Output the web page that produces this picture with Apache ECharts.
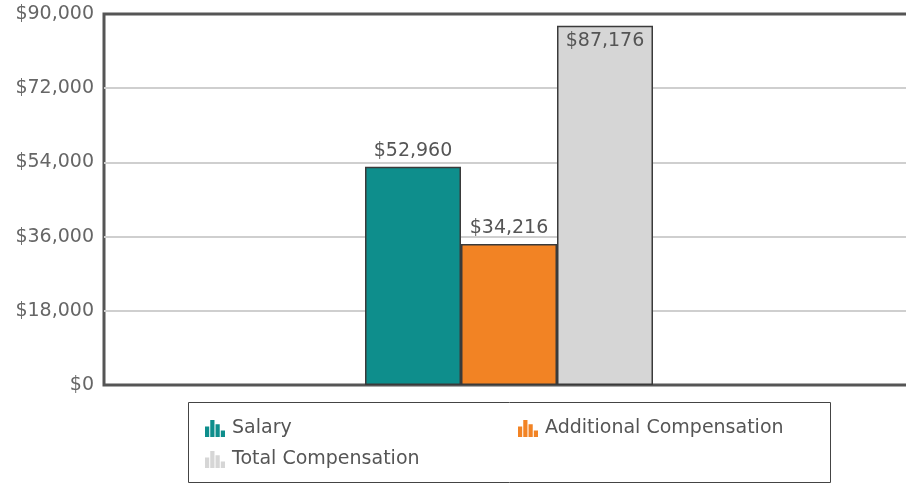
<!DOCTYPE html>
<html>
<head>
<meta charset="utf-8">
<script src="https://cdn.jsdelivr.net/npm/echarts@6/dist/echarts.min.js"></script>
<style>
  html, body { margin: 0; padding: 0; background: #fff; }
  #chart { width: 906px; height: 484px; }
</style>
</head>
<body>
<div id="chart"></div>
<script>
const categories = ['Compensation']
const seriesNames = ['Salary', 'Additional Compensation', 'Total Compensation']
const seriesValues = [52960, 34216, 87176]
const seriesColors = ['#0e8e8c', '#f28324', '#d6d6d6']
const yTicks = [0, 18000, 36000, 54000, 72000, 90000]

// little bar-chart glyph used as legend marker
const barIcon = 'path://M0,6h4v10h-4z M5,0h4v16h-4z M10,4h4v12h-4z M15,10h4v6h-4z'
const money = v => '$' + v.toLocaleString('en-US')
const font = 'DejaVu Sans'

const chart = echarts.init(document.getElementById('chart'), null, { renderer: 'canvas' })

const legendBase = {
  orient: 'vertical', itemGap: 12,
  itemWidth: 20, itemHeight: 18, icon: barIcon,
  itemStyle: { borderWidth: 0 },
  textStyle: { color: '#555', fontFamily: font, fontSize: 19, padding: [0, 0, 0, 2] }
}

chart.setOption({
  animation: false,
  grid: {
    left: 104, right: -8, top: 14, bottom: 99,
    outerBoundsMode: 'none',
    show: true, borderColor: '#555', borderWidth: 3
  },
  xAxis: {
    type: 'category',
    data: categories,
    axisLine: { show: false },
    axisTick: { show: false },
    axisLabel: { show: false }
  },
  yAxis: {
    type: 'value',
    min: yTicks[0],
    max: yTicks[yTicks.length - 1],
    interval: yTicks[1] - yTicks[0],
    axisLine: { show: false },
    axisTick: { show: false },
    splitLine: { showMinLine: false, showMaxLine: false, lineStyle: { color: '#cfcfcf', width: 2 } },
    axisLabel: { color: '#666', fontFamily: font, fontSize: 19, margin: 10, formatter: money }
  },
  legend: [
    Object.assign({ left: 200, top: 414, data: [seriesNames[0], seriesNames[2]] }, legendBase),
    Object.assign({ left: 513, top: 414, data: [seriesNames[1]] }, legendBase)
  ],
  graphic: [{
    type: 'rect', left: 186, top: 400,
    shape: { width: 642, height: 80 },
    style: { fill: 'none', stroke: '#444', lineWidth: 1 }
  }],
  series: seriesNames.map((name, i) => ({
    name,
    type: 'bar',
    data: [seriesValues[i]],
    barWidth: 96,
    barGap: '0%',
    itemStyle: { color: seriesColors[i], borderColor: '#3a3a3a', borderWidth: 1.5 },
    label: {
      show: true,
      position: i === 2 ? 'insideTop' : 'top',
      distance: 6,
      color: '#555',
      fontFamily: font,
      fontSize: 19,
      formatter: p => money(p.value)
    }
  }))
})
</script>
</body>
</html>
